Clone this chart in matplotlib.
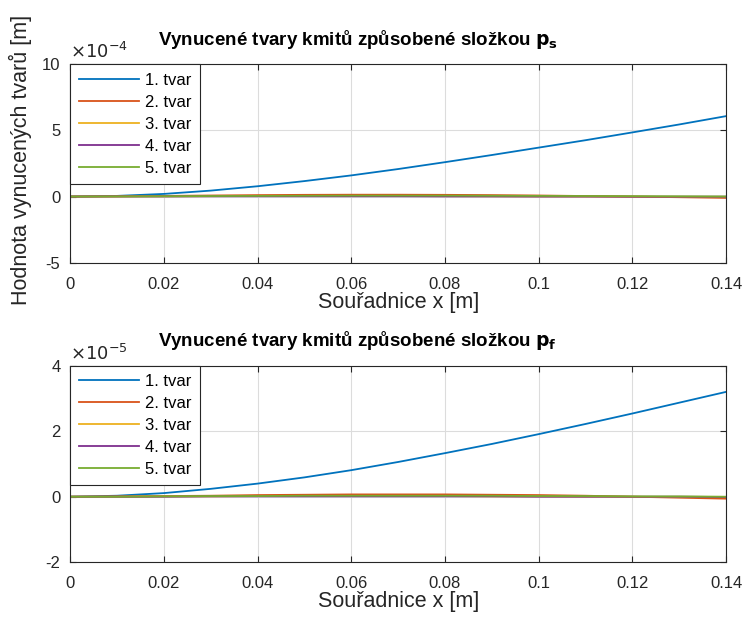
import matplotlib.pyplot as plt

plt.rcParams['font.family'] = ['Liberation Sans', 'DejaVu Sans']

x = [0, 0.01, 0.02, 0.03, 0.04, 0.05, 0.06, 0.07, 0.08, 0.09, 0.10, 0.11, 0.12, 0.13, 0.14]

# vynucene tvary od slozky p_s
ps_1 = [0, 0.05e-4, 0.20e-4, 0.45e-4, 0.78e-4, 1.17e-4, 1.60e-4, 2.08e-4, 2.60e-4, 3.14e-4,
        3.70e-4, 4.26e-4, 4.85e-4, 5.45e-4, 6.08e-4]
ps_2 = [0, 0.02e-4, 0.05e-4, 0.08e-4, 0.11e-4, 0.13e-4, 0.14e-4, 0.14e-4, 0.13e-4, 0.11e-4,
        0.08e-4, 0.04e-4, 0.0, -0.05e-4, -0.10e-4]
ps_3 = [0, 0.01e-4, 0.02e-4, 0.03e-4, 0.04e-4, 0.04e-4, 0.04e-4, 0.04e-4, 0.03e-4, 0.02e-4,
        0.01e-4, 0.0, -0.01e-4, -0.02e-4, -0.03e-4]
ps_4 = [0, 0.01e-4, 0.01e-4, 0.02e-4, 0.02e-4, 0.02e-4, 0.02e-4, 0.02e-4, 0.01e-4, 0.01e-4,
        0.0, 0.0, -0.01e-4, -0.01e-4, -0.01e-4]
ps_5 = [0, 0.01e-4, 0.02e-4, 0.04e-4, 0.05e-4, 0.06e-4, 0.07e-4, 0.07e-4, 0.07e-4, 0.06e-4,
        0.05e-4, 0.04e-4, 0.03e-4, 0.02e-4, 0.01e-4]

# vynucene tvary od slozky p_f
pf_1 = [0, 0.03e-5, 0.11e-5, 0.24e-5, 0.40e-5, 0.59e-5, 0.81e-5, 1.06e-5, 1.33e-5, 1.61e-5,
        1.91e-5, 2.22e-5, 2.54e-5, 2.87e-5, 3.20e-5]
pf_2 = [0, 0.01e-5, 0.02e-5, 0.03e-5, 0.05e-5, 0.06e-5, 0.07e-5, 0.07e-5, 0.07e-5, 0.06e-5,
        0.05e-5, 0.03e-5, 0.0, -0.03e-5, -0.06e-5]
pf_3 = [0, 0.0, 0.01e-5, 0.01e-5, 0.02e-5, 0.02e-5, 0.02e-5, 0.02e-5, 0.02e-5, 0.01e-5,
        0.01e-5, 0.0, 0.0, -0.01e-5, -0.01e-5]
pf_4 = [0, 0.0, 0.0, 0.01e-5, 0.01e-5, 0.01e-5, 0.01e-5, 0.01e-5, 0.01e-5, 0.01e-5,
        0.0, 0.0, 0.0, 0.0, -0.01e-5]
pf_5 = [0, 0.0, 0.01e-5, 0.02e-5, 0.02e-5, 0.03e-5, 0.03e-5, 0.03e-5, 0.03e-5, 0.03e-5,
        0.02e-5, 0.02e-5, 0.01e-5, 0.01e-5, 0.0]

labels = ['1. tvar', '2. tvar', '3. tvar', '4. tvar', '5. tvar']
colors = ['#0072BD', '#D95319', '#EDB120', '#7E2F8E', '#77AC30']


def style_axes(ax, series, ylim, yticks, exp, title):
    for y, lab, c in zip(series, labels, colors):
        ax.plot(x, y, color=c, lw=1.3, label=lab)
    ax.set_xlim(0, 0.14)
    ax.set_ylim(*ylim)
    ax.set_xticks([0, 0.02, 0.04, 0.06, 0.08, 0.1, 0.12, 0.14])
    ax.set_xticklabels(['0', '0.02', '0.04', '0.06', '0.08', '0.1', '0.12', '0.14'])
    ax.set_yticks(yticks)
    ax.set_yticklabels([str(int(round(t / 10**exp))) for t in yticks])
    ax.text(0.0, 1.01, r'$\times10^{%d}$' % exp, transform=ax.transAxes,
            fontsize=13, color='#262626', ha='left', va='bottom')
    ax.grid(True, color='#dcdcdc', lw=0.8)
    ax.set_axisbelow(True)
    ax.tick_params(direction='in', labelsize=12, colors='#262626', length=4,
                   top=True, right=True, pad=7)
    ax.tick_params(axis='x', pad=10)
    for s in ax.spines.values():
        s.set_color('#262626')
        s.set_linewidth(0.8)
    ax.set_xlabel('Souřadnice x [m]', fontsize=15.5, color='#262626', labelpad=0)
    ax.set_title(title, fontsize=13.5, fontweight='bold', pad=14, x=0.438)
    leg = ax.legend(loc='upper left', fontsize=12, fancybox=False, framealpha=1,
                    edgecolor='#262626', borderaxespad=0.0, handlelength=3.6,
                    handletextpad=0.4, labelspacing=0.42, borderpad=0.5)
    leg.get_frame().set_linewidth(0.8)


fig = plt.figure(figsize=(7.47, 6.24), dpi=100)
ax1 = fig.add_axes([0.094, 0.579, 0.878, 0.318])
ax2 = fig.add_axes([0.094, 0.099, 0.878, 0.315])

style_axes(ax1, [ps_1, ps_2, ps_3, ps_4, ps_5], (-5e-4, 10e-4), [-5e-4, 0, 5e-4, 10e-4], -4,
           r'Vynucené tvary kmitů způsobené složkou $\mathbf{p_s}$')
style_axes(ax2, [pf_1, pf_2, pf_3, pf_4, pf_5], (-2e-5, 4e-5), [-2e-5, 0, 2e-5, 4e-5], -5,
           r'Vynucené tvary kmitů způsobené složkou $\mathbf{p_f}$')

fig.text(0.027, 0.744, 'Hodnota vynucených tvarů [m]', rotation=90, fontsize=15.5,
         color='#262626', ha='center', va='center')

fig.savefig('out.png', dpi=100)
